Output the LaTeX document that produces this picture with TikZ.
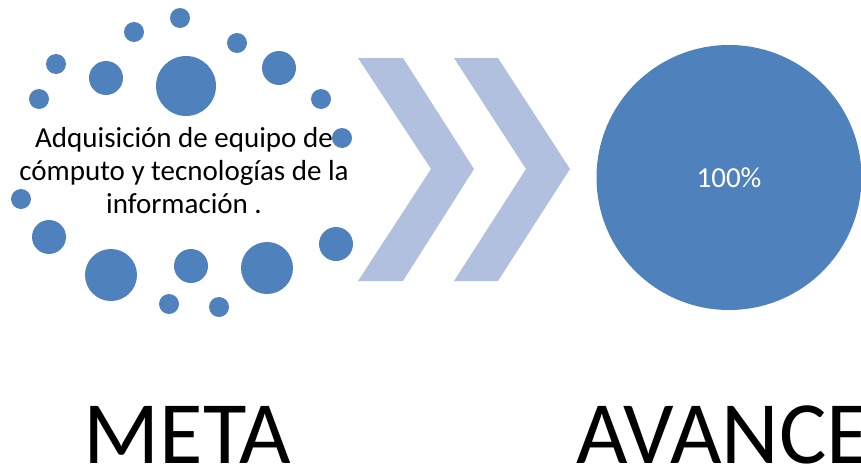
\documentclass[tikz,border=0pt]{standalone}
\usepackage{fontspec}
\setmainfont{Carlito}
\usetikzlibrary{positioning}
\definecolor{dotblue}{RGB}{79,129,189}
\definecolor{chevblue}{RGB}{176,192,222}

\begin{document}
\begin{tikzpicture}[
    x=1pt, y=-1pt,
    dot/.style={circle, fill=dotblue, inner sep=0pt, minimum size=#1},
    goal/.style={font=\fontsize{29}{33}\selectfont, align=center},
    chevron/.style={fill=chevblue},
    progress/.style={circle, fill=dotblue, inner sep=0pt, minimum size=265pt, text=white, font=\fontsize{29}{33}\selectfont},
    caption/.style={anchor=base, inner sep=0pt, text depth=0pt, font=\fontsize{89}{92}\selectfont}
]
\useasboundingbox (0,0) rectangle (861,466);
\clip (0,0) rectangle (861,466);

% goal text inside the ring of dots
\node[goal] (goal) at (184,171) {Adquisición de equipo de\\cómputo y tecnologías de la\\información .};

% ring of dots
\foreach \px/\py/\d [count=\i] in {180/18/20, 134/32/20, 237/43/20, 56/64/20, 106/78/34,
    186/86/60, 279/68/34, 39/99/20, 321/99/20, 342/138/20, 21/199/20, 49/237/34,
    111/275/52, 191/266/34, 267/268/52, 336/244/34, 169/304/20, 219/307/20}
    \node[dot=\d pt] (dot\i) at (\px,\py) {};

% chevrons
\fill[chevron] (358,58) -- (403,58) -- (474,169) -- (403,281) -- (358,281) -- (431,169) -- cycle;
\fill[chevron] (454,58) -- (498,58) -- (570,169) -- (498,281) -- (454,281) -- (526,169) -- cycle;

% progress circle
\node[progress] (avance) at (729,177.5) {100\%};

% captions
\node[caption] (metalabel) at (187.5,463) {META};
\node[caption] (avancelabel) at (723,463) {AVANCE};

\end{tikzpicture}
\end{document}
